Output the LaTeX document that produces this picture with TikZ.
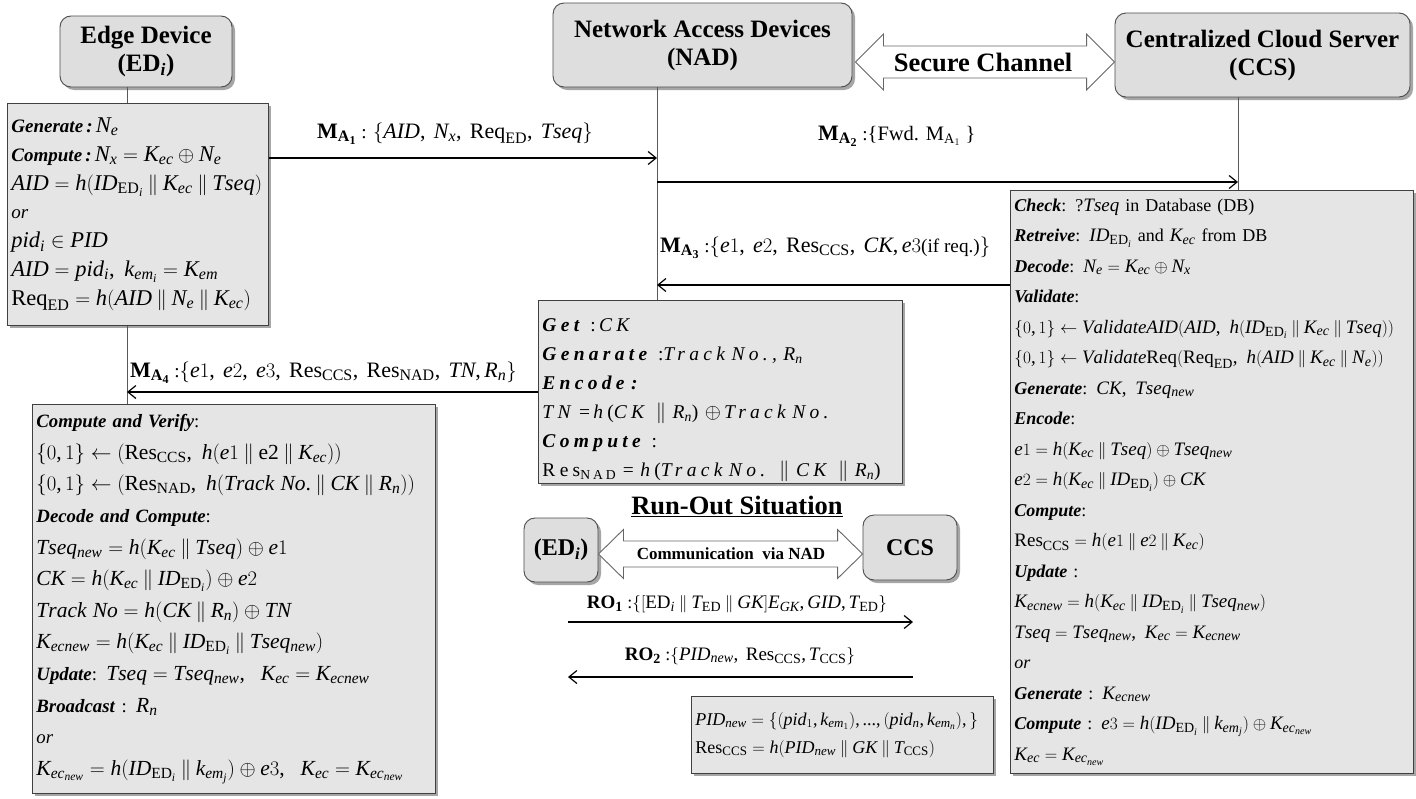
\documentclass[tikz,border=0pt]{standalone}
\usepackage{fontspec}
\setmainfont{Liberation Serif}
\DeclareSymbolFont{letters}{TU}{\rmdefault}{m}{it}
\SetSymbolFont{letters}{bold}{TU}{\rmdefault}{b}{it}
\DeclareSymbolFont{operators}{TU}{\rmdefault}{m}{n}
\SetSymbolFont{operators}{bold}{TU}{\rmdefault}{b}{n}
\DeclareMathSizes{19}{22.5}{16}{12}
\DeclareMathSizes{18.8}{21.5}{15.5}{11.5}
\DeclareMathSizes{19.2}{22}{16}{12}
\DeclareMathSizes{18}{19}{14}{10}
\DeclareMathSizes{16}{18}{13}{9.5}
\AtBeginDocument{\mathcode`\,="602C \mathcode`\.="002E \mathcode`\/="002F }
\usetikzlibrary{shadows,arrows.meta,calc}
\newcommand\kw[1]{\textbf{\textit{#1}}}
\newcommand\cat{\mathbin{\|}}
\newcommand\IDE{ID_{\mathrm{ED}_i}}
\newcommand\fixlines{\lineskiplimit-60pt\lineskip0pt\relax}
\tikzset{
  shd/.style={drop shadow={shadow xshift=3pt,shadow yshift=-3pt,opacity=0.35,fill=black}},
  hdr/.style={shd, draw=black!70, fill=black!13, line width=0.9pt, rounded corners=11pt, align=center, inner sep=0pt, font=\fontsize{25}{28}\selectfont\bfseries},
  box/.style 2 args={shd, draw=black!75, fill=black!10, line width=0.9pt, anchor=north west, align=left, inner xsep=4pt, inner ysep=0pt, font={\fontsize{#1}{#2}\selectfont\fixlines}},
  life/.style={draw=black!65, line width=0.8pt},
  msg/.style={line width=1.2pt, -{Straight Barb[length=8pt,width=13pt]}},
  lbl/.style={anchor=base west, inner sep=0pt, font=\fontsize{19.2}{23}\selectfont},
  rolbl/.style={anchor=base, inner sep=0pt, font=\fontsize{18}{22}\selectfont},
  dbl/.style={draw=black!60, fill=white, line width=0.9pt, line join=miter},
}
\begin{document}
\begin{tikzpicture}[x=1pt,y=-1pt]
\useasboundingbox (0,0) rectangle (1416,798);
\fill[white] (0,0) rectangle (1416,798);

% lifeline x positions
\coordinate (edx) at (127,0);
\coordinate (nadx) at (657,0);
\coordinate (ccsx) at (1238,0);

% headers
\node[hdr, minimum width=172pt, minimum height=71pt] (edh) at (146,51.5) {Edge Device\\(ED\textsubscript{\textit{i}})};
\node[hdr, minimum width=299pt, minimum height=84pt] (nadh) at (702.5,45) {Network Access Devices\\(NAD)};
\node[hdr, minimum width=295pt, minimum height=84pt] (ccsh) at (1262.5,55) {Centralized Cloud Server\\(CCS)};

% secure channel
\coordinate (scc) at (983,62);
\coordinate (sL) at ($(nadh.east |- scc)+(3,0)$);
\coordinate (sR) at (ccsh.west |- scc);
\draw[dbl] (sL) -- ++(28,-28) -- ++(0,12) -- ($(sR)+(-28,-16)$) -- ++(0,-12) -- (sR)
  -- ++(-28,28) -- ++(0,-12) -- ($(sL)+(28,16)$) -- ++(0,12) -- cycle;
\node[font=\fontsize{26.5}{30}\selectfont\bfseries, inner sep=0pt] (sct) at (scc) {Secure Channel};

% boxes
\node[box={19}{28.7}, minimum width=261pt, minimum height=222pt, text width=253pt] (edb1) at (7,103) {%
\kw{Generate\,:}\,$N_e$\\
\mbox{\kw{Compute\,:}\,$N_x = K_{ec} \oplus N_e$}\\
\mbox{$AID = h(\IDE \cat K_{ec} \cat Tseq)$}\\
\textit{or}\\
$pid_i \in PID$\\
\mbox{$AID = pid_i,\ k_{em_i} = K_{em}$}\\
\mbox{$\mathrm{Req}_{\mathrm{ED}} = h(AID \cat N_e \cat K_{ec})$}};

\node[box={18}{30.5}, minimum width=403pt, minimum height=583pt, text width=395pt] (ccsb) at (1010,190) {%
\kw{Check}: ?$Tseq$ in Database (DB)\\
\kw{Retreive}: $\IDE$ and $K_{ec}$ from DB\\
\kw{Decode}: $N_e = K_{ec} \oplus N_x$\\
\kw{Validate}:\\
\mbox{$\{0,1\} \leftarrow ValidateAID(AID,\ h(\IDE \cat K_{ec} \cat Tseq))$}\\
\mbox{$\{0,1\} \leftarrow Validate\mathrm{Req}(\mathrm{Req}_{\mathrm{ED}},\ h(AID \cat K_{ec} \cat N_e))$}\\
\kw{Generate}: $CK,\ Tseq_{new}$\\
\kw{Encode}:\\
\mbox{$e1 = h(K_{ec} \cat Tseq) \oplus Tseq_{new}$}\\
\mbox{$e2 = h(K_{ec} \cat \IDE) \oplus CK$}\\
\kw{Compute}:\\
\mbox{$\mathrm{Res}_{\mathrm{CCS}} = h(e1 \cat e2 \cat K_{ec})$}\\
\kw{Update} :\\
\mbox{$K_{ecnew} = h(K_{ec} \cat \IDE \cat Tseq_{new})$}\\
\mbox{$Tseq = Tseq_{new},\ K_{ec} = K_{ecnew}$}\\
\textit{or}\\
\kw{Generate} : $K_{ecnew}$\\
\mbox{\kw{Compute} : $e3 = h(\IDE \cat k_{em_j}) \oplus K_{ec_{new}}$}\\
$K_{ec} = K_{ec_{new}}$};

\node[box={19.5}{29}, font={\fontsize{19.5}{29}\selectfont\addfontfeatures{LetterSpace=22}\fixlines}, minimum width=364pt, minimum height=183pt, text width=356pt] (nadb) at (538,300) {%
\rule{0pt}{30pt}\kw{Get} :\,\textit{CK}\\
\kw{Genarate} :\textit{Track No., R\textsubscript{n}}\\
\kw{Encode :}\\
\mbox{\textit{TN}\,=\,\textit{h}(\textit{CK} $\|$ \textit{R\textsubscript{n}}) $\oplus$\,\textit{Track No.}}\\
\kw{Compute} :\\
\mbox{Res\textsubscript{NAD} = \textit{h}(\textit{Track No.} $\|$ \textit{CK} $\|$ \textit{R\textsubscript{n}})}};

\node[box={18.8}{31.6}, minimum width=403pt, minimum height=389pt, text width=395pt] (edb2) at (32,404) {%
\kw{Compute and Verify}:\\
\mbox{$\{0,1\} \leftarrow (\mathrm{Res}_{\mathrm{CCS}},\ h(e1 \cat \mathrm{e2} \cat K_{ec}))$}\\
\mbox{$\{0,1\} \leftarrow (\mathrm{Res}_{\mathrm{NAD}},\ h(Track\ No. \cat CK \cat R_n))$}\\
\kw{Decode and Compute}:\\
\mbox{$Tseq_{new} = h(K_{ec} \cat Tseq) \oplus e1$}\\
\mbox{$CK = h(K_{ec} \cat \IDE) \oplus e2$}\\
\mbox{$Track\ No = h(CK \cat R_n) \oplus TN$}\\
\mbox{$K_{ecnew} = h(K_{ec} \cat \IDE \cat Tseq_{new})$}\\
\mbox{\kw{Update}: $Tseq = Tseq_{new},\ \ K_{ec} = K_{ecnew}$}\\
\kw{Broadcast} : $R_n$\\
\textit{or}\\
\mbox{$K_{ec_{new}} = h(\IDE \cat k_{em_j}) \oplus e3,\ \ K_{ec} = K_{ec_{new}}$}};

% lifelines
\draw[life] (edh.south -| edx) -- (edb1.north -| edx);
\draw[life] (edb1.south -| edx) -- (edb2.north -| edx);
\draw[life] (nadh.south -| nadx) -- (nadb.north -| nadx);
\draw[life] (ccsh.south -| ccsx) -- (ccsb.north -| ccsx);

% messages
\draw[msg] (edb1.east |- 0,158) -- (nadx |- 0,158);
\node[lbl] (m1) at (317,138) {$\mathbf{M}_{\mathbf{A}_{\mathbf{1}}}$ : $\{AID,\ N_x,\ \mathrm{Req}_{\mathrm{ED}},\ Tseq\}$};
\draw[msg] (nadx |- 0,182) -- (ccsx |- 0,182);
\node[lbl] (m2) at (818,140) {$\mathbf{M}_{\mathbf{A}_{\mathbf{2}}}$ :{\fontsize{20.5}{23}\selectfont\{Fwd. M$_{\mathrm{A}_1}$ \}}};
\draw[msg] (ccsb.west |- 0,285) -- (nadx |- 0,285);
\node[lbl] (m3) at (660,252) {$\mathbf{M}_{\mathbf{A}_{\mathbf{3}}}$ :$\{e1,\ e2,\ \mathrm{Res}_{\mathrm{CCS}},\ CK, e3$(if req.)$\}$};
\draw[msg] (nadb.west |- 0,392) -- (edx |- 0,392);
\node[lbl] (m4) at (130,377) {$\mathbf{M}_{\mathbf{A}_{\mathbf{4}}}$ :$\{e1,\ e2,\ e3,\ \mathrm{Res}_{\mathrm{CCS}},\ \mathrm{Res}_{\mathrm{NAD}},\ TN, R_n\}$};

% run-out situation
\node[font=\fontsize{26.5}{30}\selectfont\bfseries, inner sep=0pt] (rtitle) at (737,506) {\underline{Run-Out Situation}};
\node[hdr, font=\fontsize{24}{28}\selectfont\bfseries, minimum width=74pt, minimum height=64pt] (roed) at (561,550) {(ED\textsubscript{\textit{i}})};
\node[hdr, font=\fontsize{24}{28}\selectfont\bfseries, minimum width=94pt, minimum height=65pt] (roccs) at (910,547.5) {CCS};
\coordinate (rcc) at (731,554);
\coordinate (rL) at (roed.east |- rcc);
\coordinate (rR) at (roccs.west |- rcc);
\draw[dbl] (rL) -- ++(25,-24.5) -- ++(0,11.5) -- ($(rR)+(-25,-13)$) -- ++(0,-11.5) -- (rR)
  -- ++(-25,24.5) -- ++(0,-11.5) -- ($(rL)+(25,13)$) -- ++(0,11.5) -- cycle;
\node[font=\fontsize{17}{20}\selectfont\bfseries, inner sep=0pt] (rct) at (rcc) {Communication\ \ via NAD};

\coordinate (ro1a) at (568,622);
\coordinate (ro1b) at (913,622);
\draw[msg] (ro1a) -- (ro1b);
\node[rolbl] (ro1) at (737,608) {$\mathbf{RO}_{\mathbf{1}}$ :$\{[\mathrm{ED}_i \cat T_{\mathrm{ED}} \cat GK]E_{GK}, GID, T_{\mathrm{ED}}\}$};
\coordinate (ro2a) at (913,677);
\coordinate (ro2b) at (568,677);
\draw[msg] (ro2a) -- (ro2b);
\node[rolbl] (ro2) at (740,660) {$\mathbf{RO}_{\mathbf{2}}$ :$\{PID_{new},\ \mathrm{Res}_{\mathrm{CCS}}, T_{\mathrm{CCS}}\}$};

\node[box={16}{28}, minimum width=302pt, minimum height=77pt, text width=294pt] (pidb) at (691,696) {%
\mbox{$PID_{new} = \{(pid_1, k_{em_1}), ..., (pid_n, k_{em_n}),\}$}\\
\mbox{$\mathrm{Res}_{\mathrm{CCS}} = h(PID_{new} \cat GK \cat T_{\mathrm{CCS}})$}};
\end{tikzpicture}
\end{document}
